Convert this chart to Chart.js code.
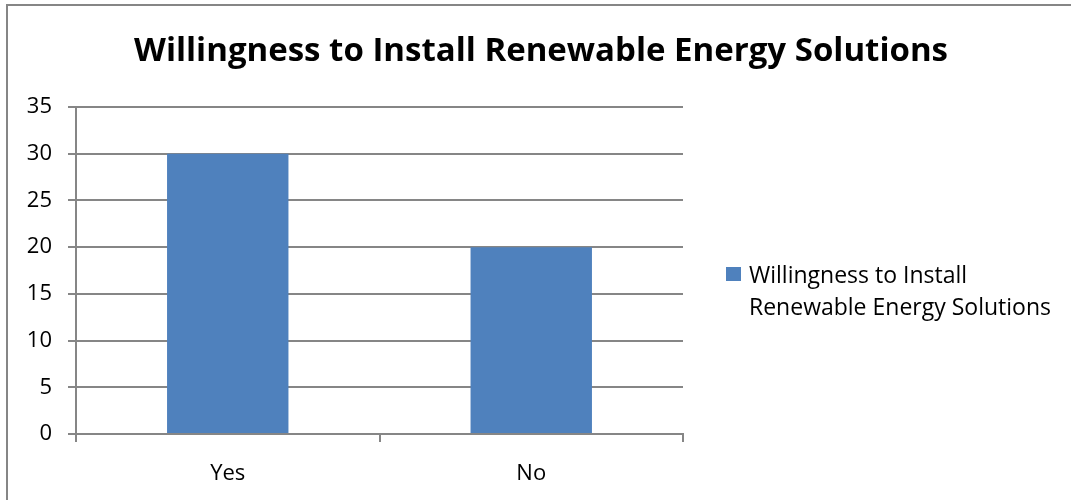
<!DOCTYPE html>
<html>
<head>
<meta charset="utf-8">
<script src="https://cdn.jsdelivr.net/npm/chart.js@4.4.1/dist/chart.umd.min.js"></script>
<style>
    html, body { margin: 0; padding: 0; background: #fff; overflow: hidden; }
    #wrap { position: relative; width: 1071px; height: 500px; overflow: hidden; }
    #frame {
        position: absolute; left: 6px; top: 4px; width: 1080px; height: 500px;
        border: 2px solid #868686; border-bottom: none; box-sizing: border-box;
    }
    #myChart { position: absolute; left: 0; top: 0; }
    #legend {
        position: absolute; left: 726px; top: 258px; margin: 0; padding: 0;
        list-style: none; font-family: "Open Sans", sans-serif; font-size: 23px;
        color: #000; line-height: 32px;
    }
    #legend li { display: flex; align-items: flex-start; }
    .itemMaker { display: inline-block; width: 15px; height: 14px; margin-top: 9px; margin-right: 8px; flex: none; }
</style>
</head>
<body>
<div id="wrap">
    <canvas id="myChart" width="1071" height="500"></canvas>
    <div id="frame"></div>
    <ul id="legend"></ul>
</div>
<script>
const categories = ['Yes', 'No'];
const seriesLabel = 'Willingness to Install Renewable Energy Solutions';
const seriesValues = [30, 20];
const yTicks = [0, 5, 10, 15, 20, 25, 30, 35];

const barColor = '#4F81BD';
const gridColor = '#868686';
const fontFamily = '"Open Sans", sans-serif';

// title spans the whole frame, not just the plot box, so draw it by hand
const fullWidthTitle = {
    id: 'fullWidthTitle',
    afterDraw(chart) {
        const c = chart.ctx;
        c.save();
        c.font = 'bold 33px ' + fontFamily;
        c.fillStyle = '#000';
        c.textAlign = 'center';
        c.textBaseline = 'middle';
        c.fillText(seriesLabel, 541, 52);
        c.restore();
    }
};

function generateCustomLegend(chart) {
    const legendContainer = document.getElementById('legend');
    legendContainer.innerHTML = '';
    chart.data.datasets.forEach(function (ds) {
        const listItem = document.createElement('li');
        const itemMarker = document.createElement('span');
        const itemText = document.createElement('span');
        itemMarker.classList.add('itemMaker');
        itemMarker.style.backgroundColor = ds.backgroundColor;
        // legend text breaks after "Install"
        itemText.innerHTML = 'Willingness to Install<br>Renewable Energy Solutions';
        listItem.appendChild(itemMarker);
        listItem.appendChild(itemText);
        legendContainer.appendChild(listItem);
    });
}

const ctx = document.getElementById('myChart');
const myChart = new Chart(ctx, {
    type: 'bar',
    data: {
        labels: categories,
        datasets: [{
            label: seriesLabel,
            data: seriesValues,
            backgroundColor: barColor,
            borderWidth: 0,
            barPercentage: 0.4,
            categoryPercentage: 1
        }]
    },
    options: {
        responsive: false,
        animation: false,
        layout: {
            padding: { left: 0, right: 388, top: 107, bottom: 0 }
        },
        plugins: {
            legend: { display: false },
            tooltip: { enabled: false },
            title: { display: false }
        },
        scales: {
            x: {
                grid: {
                    offset: true,
                    drawOnChartArea: false,
                    drawTicks: true,
                    tickLength: 8,
                    color: gridColor,
                    lineWidth: 2
                },
                border: { display: true, color: gridColor, width: 2 },
                ticks: {
                    color: '#000',
                    padding: 19,
                    font: { family: fontFamily, size: 22 }
                },
                afterFit: function (scale) { scale.height = 66; }
            },
            y: {
                min: 0,
                max: 35,
                afterBuildTicks: function (scale) {
                    scale.ticks = yTicks.map(v => ({ value: v }));
                },
                grid: {
                    color: gridColor,
                    lineWidth: 2,
                    tickLength: 8
                },
                border: { display: true, color: gridColor, width: 2 },
                ticks: {
                    color: '#000',
                    padding: 16,
                    font: { family: fontFamily, size: 22 }
                },
                afterFit: function (scale) { scale.width = 76; }
            }
        }
    },
    plugins: [fullWidthTitle]
});
generateCustomLegend(myChart);
</script>
</body>
</html>
